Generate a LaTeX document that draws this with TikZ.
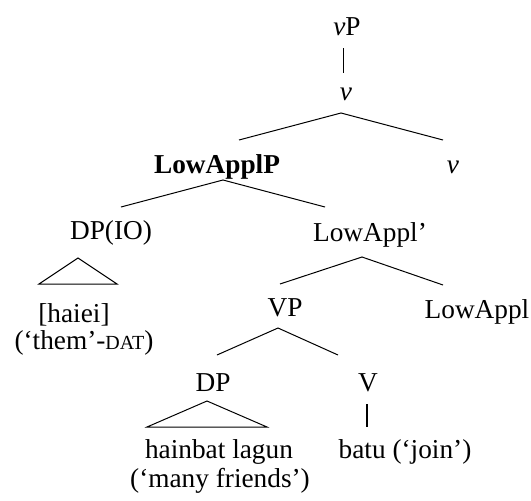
\documentclass[tikz,border=0pt]{standalone}
\usepackage{fontspec}
\setmainfont{Liberation Serif}
\begin{document}
\begin{tikzpicture}[x=1pt,y=-1pt,
  tx/.style={inner sep=0pt, anchor=base, font=\fontsize{27.3}{32}\selectfont},
  br/.style={line width=1pt},
  thk/.style={line width=1.8pt}]
\useasboundingbox (0,0) rectangle (531,501);
% labels
\node[tx] (vP) at (347,35) {\textit{v}P};
\node[tx] (v1) at (346,100) {\textit{v}};
\node[tx] (v2) at (453,173) {\textit{v}};
\node[tx] (LAP) at (217,173) {\textbf{LowApplP}};
\node[tx] (DPIO) at (111,239) {DP(IO)};
\node[tx] (LAbar) at (370,241) {LowAppl’};
\node[tx] (haiei) at (74,322) {[haiei]};
\node[tx] (them) at (84,349) {(‘them’-{\fontsize{20}{20}\selectfont DAT})};
\node[tx] (VP) at (285,316) {VP};
\node[tx] (LA) at (477,318) {LowAppl};
\node[tx] (DP) at (213,391) {DP};
\node[tx] (V) at (368,391) {V};
\node[tx] (hl) at (219,458) {hainbat lagun};
\node[tx] (mf) at (220,487) {(‘many friends’)};
\node[tx] (batu) at (405,458) {batu (‘join’)};
% branch points
\coordinate (a0t) at (343,48);  \coordinate (a0b) at (343,73);
\coordinate (a1) at (341,113);  \coordinate (a1l) at (239,140); \coordinate (a1r) at (443,140);
\coordinate (a2) at (223,180);  \coordinate (a2l) at (121,207); \coordinate (a2r) at (325,207);
\coordinate (t1) at (78,258);   \coordinate (t1l) at (39,284);  \coordinate (t1r) at (117,284);
\coordinate (a3) at (362,257);  \coordinate (a3l) at (280,284); \coordinate (a3r) at (443,285);
\coordinate (a4) at (278,328);  \coordinate (a4l) at (217,355); \coordinate (a4r) at (338,355);
\coordinate (t2) at (207,401);  \coordinate (t2l) at (147,427); \coordinate (t2r) at (267,427);
\coordinate (a5t) at (367,404); \coordinate (a5b) at (367,427);
% connectors
\draw[br] (a0t) -- (a0b);
\draw[br] (a1l) -- (a1) -- (a1r);
\draw[br] (a2l) -- (a2) -- (a2r);
\draw[br] (t1) -- (t1l) -- (t1r) -- cycle;
\draw[br] (a3l) -- (a3) -- (a3r);
\draw[br] (a4l) -- (a4) -- (a4r);
\draw[br] (t2) -- (t2l) -- (t2r) -- cycle;
\draw[thk] (a5t) -- (a5b);
\end{tikzpicture}
\end{document}
